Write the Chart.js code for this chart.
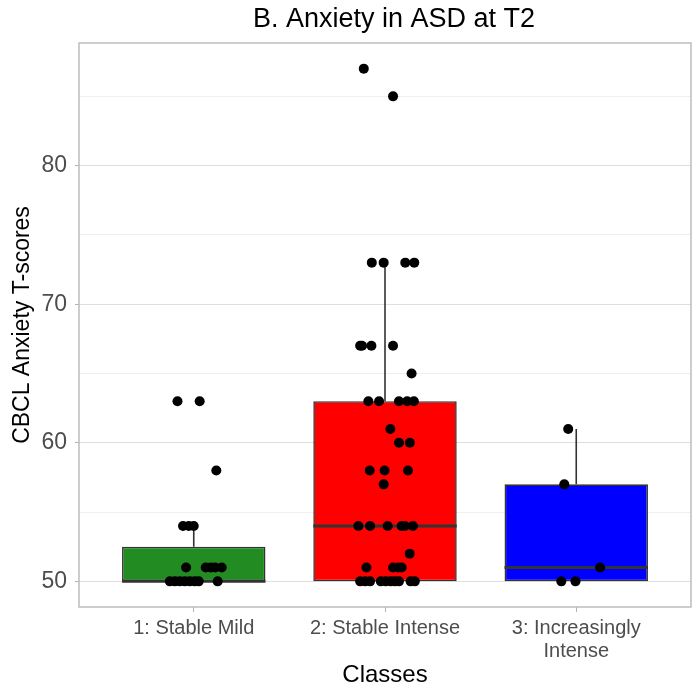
<!DOCTYPE html>
<html>
<head>
<meta charset="utf-8">
<script src="https://cdn.jsdelivr.net/npm/chart.js@4.4.1/dist/chart.umd.min.js"></script>
<style>
  html, body { margin: 0; padding: 0; background: #ffffff; }
  #wrap { width: 696px; height: 690px; position: relative; }
</style>
</head>
<body>
<div id="wrap"><canvas id="c" width="696" height="690"></canvas></div>
<script>
// ---------------- data ----------------
const TITLE = 'B. Anxiety in ASD at T2';
const X_TITLE = 'Classes';
const Y_TITLE = 'CBCL Anxiety T-scores';
const classPositions = [1, 2, 3];
const classLabels = [['1: Stable Mild'], ['2: Stable Intense'], ['3: Increasingly', 'Intense']];
const boxColors = ['#228B22', '#FF0000', '#0000FF'];

const q1 = [50, 50, 50];
const median = [50, 54, 51];
const q3 = [52.5, 63, 57];
const whiskerLow = [50, 50, 50];
const whiskerHigh = [54, 73, 61];

const yTicks = [50, 55, 60, 65, 70, 75, 80, 85];

const class1Values = [63, 63, 58, 54, 54, 54, 51, 51, 51, 51, 51, 50, 50, 50, 50, 50, 50, 50, 50];
const class1Jitter = [-0.085, 0.031, 0.118, -0.056, -0.026, 0.0, -0.040, 0.0625, 0.089, 0.112, 0.146,
                      -0.125, -0.099, -0.073, -0.047, -0.021, 0.005, 0.026, 0.125];

const class2Values = [87, 85, 73, 73, 73, 73, 67, 67, 67, 67, 65, 63, 63, 63, 63, 63, 61, 60, 60,
                      58, 58, 58, 57, 54, 54, 54, 54, 54, 54, 52, 51, 51, 51, 51,
                      50, 50, 50, 50, 50, 50, 50, 50, 50, 50];
const class2Jitter = [-0.111, 0.042, -0.069, -0.007, 0.106, 0.153, -0.130, -0.120, -0.071, 0.042, 0.139,
                      -0.087, -0.031, 0.073, 0.116, 0.151, 0.028, 0.073, 0.130,
                      -0.080, -0.002, 0.120, -0.007, -0.139, -0.078, 0.014, 0.087, 0.104, 0.146, 0.129,
                      -0.097, 0.042, 0.069, 0.087,
                      -0.130, -0.104, -0.078, -0.022, 0.004, 0.030, 0.052, 0.073, 0.134, 0.156];

const class3Values = [61, 57, 51, 50, 50];
const class3Jitter = [-0.042, -0.0625, 0.125, -0.078, -0.004];

// ---------------- build datasets ----------------
const BOX_HALF = 0.375;
const FONT = "'Liberation Sans', Arial, Helvetica, sans-serif";

const boxData = classPositions.map((x, i) => ({ x: x, y: [q1[i], q3[i]] }));

const whiskerData = [];
classPositions.forEach((x, i) => {
  whiskerData.push({ x: x, y: q3[i] }, { x: x, y: whiskerHigh[i] }, { x: x, y: null });
  whiskerData.push({ x: x, y: q1[i] }, { x: x, y: whiskerLow[i] }, { x: x, y: null });
});

const medianData = [];
classPositions.forEach((x, i) => {
  medianData.push({ x: x - BOX_HALF, y: median[i] }, { x: x + BOX_HALF, y: median[i] }, { x: x, y: null });
});

const pointData = [];
[[class1Values, class1Jitter], [class2Values, class2Jitter], [class3Values, class3Jitter]].forEach((pair, i) => {
  pair[0].forEach((v, j) => pointData.push({ x: classPositions[i] + pair[1][j], y: v }));
});

// ---------------- plugins ----------------
const panelBorder = {
  id: 'panelBorder',
  afterDraw(chart) {
    const a = chart.chartArea, ctx = chart.ctx;
    ctx.save();
    ctx.strokeStyle = '#B8B8B8';
    ctx.lineWidth = 1.4;
    ctx.strokeRect(a.left, a.top, a.right - a.left, a.bottom - a.top);
    ctx.restore();
  }
};

const plotTitle = {
  id: 'plotTitle',
  afterDraw(chart) {
    const a = chart.chartArea, ctx = chart.ctx;
    ctx.save();
    ctx.font = '27px ' + FONT;
    ctx.fillStyle = '#000000';
    ctx.textAlign = 'center';
    ctx.textBaseline = 'alphabetic';
    ctx.fillText(TITLE, (a.left + a.right) / 2 + 9, 27);
    ctx.restore();
  }
};

// ---------------- chart ----------------
new Chart(document.getElementById('c'), {
  type: 'bar',
  data: {
    datasets: [
      {
        type: 'scatter',
        data: pointData,
        backgroundColor: '#000000',
        borderWidth: 0,
        pointRadius: 5,
        order: 0
      },
      {
        type: 'line',
        data: medianData,
        borderColor: '#333333',
        borderWidth: 3,
        pointRadius: 0,
        spanGaps: false,
        fill: false,
        order: 1
      },
      {
        type: 'line',
        data: whiskerData,
        borderColor: '#333333',
        borderWidth: 1.6,
        pointRadius: 0,
        spanGaps: false,
        fill: false,
        order: 2
      },
      {
        type: 'bar',
        data: boxData,
        backgroundColor: boxColors,
        borderColor: '#333333',
        borderWidth: 1.6,
        borderSkipped: false,
        categoryPercentage: 1,
        barPercentage: BOX_HALF * 2,
        order: 3
      }
    ]
  },
  options: {
    responsive: false,
    animation: false,
    events: [],
    layout: { padding: { top: 43, left: 0, right: 3, bottom: 0 } },
    plugins: {
      legend: { display: false },
      tooltip: { enabled: false },
      title: { display: false }
    },
    scales: {
      x: {
        type: 'linear',
        min: 0.4,
        max: 3.6,
        offset: false,
        afterBuildTicks(axis) { axis.ticks = classPositions.map(v => ({ value: v })); },
        afterFit(axis) { axis.height = 83; },
        grid: {
          offset: false,
          drawOnChartArea: false,
          drawTicks: true,
          tickLength: 5,
          tickColor: '#B3B3B3',
          tickWidth: 1
        },
        border: { display: false },
        ticks: {
          autoSkip: false,
          maxRotation: 0,
          padding: 5,
          color: '#4D4D4D',
          font: { family: FONT, size: 20, lineHeight: 1.15 },
          callback(value) {
            const i = classPositions.indexOf(value);
            return i >= 0 ? classLabels[i] : '';
          }
        },
        title: {
          display: true,
          text: X_TITLE,
          color: '#000000',
          font: { family: FONT, size: 24, lineHeight: 1.2 },
          padding: { top: 0, bottom: 0 }
        }
      },
      y: {
        type: 'linear',
        min: 48.15,
        max: 88.85,
        beginAtZero: false,
        afterBuildTicks(axis) { axis.ticks = yTicks.map(v => ({ value: v })); },
        afterFit(axis) { axis.width = 79; },
        grid: {
          drawOnChartArea: true,
          drawTicks: true,
          tickLength: 4,
          color(ctx) { return ctx.tick && ctx.tick.value % 10 === 0 ? '#DEDEDE' : '#EFEFEF'; },
          lineWidth: 1,
          tickColor(ctx) { return ctx.tick && ctx.tick.value % 10 === 0 ? '#B3B3B3' : 'rgba(0,0,0,0)'; },
          tickWidth: 1
        },
        border: { display: false },
        ticks: {
          autoSkip: false,
          padding: 8,
          color: '#4D4D4D',
          font: { family: FONT, size: 23 },
          callback(value) { return value % 10 === 0 ? String(value) : ''; }
        },
        title: {
          display: true,
          text: Y_TITLE,
          color: '#000000',
          font: { family: FONT, size: 23, lineHeight: 1.2 },
          padding: { top: 9, bottom: 0 }
        }
      }
    }
  },
  plugins: [panelBorder, plotTitle]
});
</script>
</body>
</html>
